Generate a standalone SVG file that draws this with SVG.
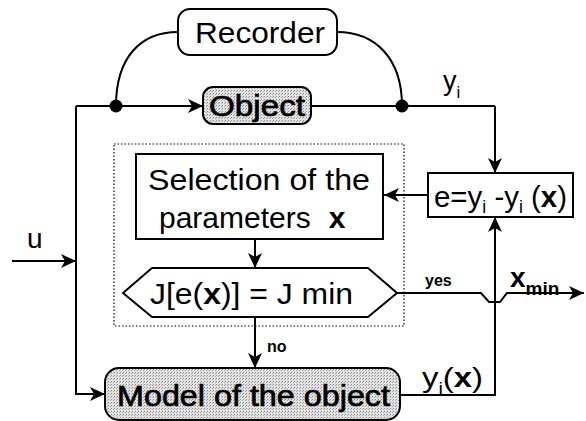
<svg xmlns="http://www.w3.org/2000/svg" width="586" height="421" viewBox="0 0 586 421">
<style>
text{font-family:"Liberation Sans",Arial,sans-serif;fill:#000}
.box{fill:#fff;stroke:#000;stroke-width:2}
.shade{fill:url(#stip);stroke:#000;stroke-width:2}
.ln{fill:none;stroke:#000;stroke-width:2}
.arr{marker-end:url(#ah)}
.t{font-size:30px}
.heavy{stroke:#000;stroke-width:0.7}
</style>
<defs>
<pattern id="stip" width="3" height="3" patternUnits="userSpaceOnUse">
<rect width="3" height="3" fill="#e2e2e2"/>
<rect x="0" y="0" width="1" height="1" fill="#8a8a8a"/>
<rect x="2" y="1" width="1" height="1" fill="#a8a8a8"/>
</pattern>
<marker id="ah" markerWidth="16" markerHeight="14" refX="15" refY="7" orient="auto" markerUnits="userSpaceOnUse">
<path d="M0,0 L15,7 L0,14 L4,7 Z" fill="#000"/>
</marker>
</defs>

<g id="connectors">
<path class="ln arr" d="M76,106 L203,106"/>
<path class="ln" d="M311,106 L495,106"/>
<path class="ln arr" d="M495,106 L495,173"/>
<path class="ln" d="M116,106 C116,58 140,32 178,32"/>
<path class="ln" d="M337,32 C375,32 402,58 402,106"/>
<path class="ln arr" d="M428,195 L384,195"/>
<path class="ln arr" d="M255,239 L255,268"/>
<path class="ln arr" d="M255,317 L255,368"/>
<path class="ln arr" d="M12,261 L76,261"/>
<path class="ln arr" d="M76,106 L76,394 L105,394"/>
<path class="ln arr" d="M400,395 L495,395 L495,217"/>
<path class="ln arr" d="M397,293 L481,293 L489,302 L500,302 L507,293 L584,293"/>
<circle cx="116" cy="106" r="6.5" fill="#000"/>
<circle cx="402" cy="106" r="6.5" fill="#000"/>
</g>

<rect id="frame" x="114" y="144" width="290" height="182" fill="none" stroke="#000" stroke-width="1.2" stroke-dasharray="1.5,2"/>

<g id="recorder">
<rect class="box" x="178" y="9" width="159" height="46" rx="12"/>
<text x="195" y="43" font-size="29" textLength="130" lengthAdjust="spacingAndGlyphs">Recorder</text>
</g>

<g id="object">
<rect class="shade" x="203" y="87" width="108" height="37" rx="10"/>
<text class="heavy" x="209" y="116" font-size="29" textLength="96" lengthAdjust="spacingAndGlyphs">Object</text>
</g>

<g id="selection">
<rect class="box" x="136" y="154" width="247" height="85"/>
<text class="t" x="148" y="190" textLength="222" lengthAdjust="spacingAndGlyphs">Selection of the</text>
<text class="t" x="159" y="228">parameters<tspan font-weight="bold" dx="18">x</tspan></text>
</g>

<g id="error">
<rect class="box" x="428" y="173" width="145" height="44"/>
<text class="t" x="434" y="207" textLength="133" lengthAdjust="spacingAndGlyphs">e=y<tspan font-size="18" dy="6">i</tspan><tspan dy="-6"> -y</tspan><tspan font-size="18" dy="6">i</tspan><tspan dy="-6"> (</tspan><tspan font-weight="bold">x</tspan>)</text>
</g>

<g id="criterion">
<polygon class="box" points="123,293 152,268 368,268 397,293 368,317 152,317"/>
<text font-size="30" x="150" y="304" textLength="203" lengthAdjust="spacingAndGlyphs">J[e(<tspan font-weight="bold">x</tspan>)] = J min</text>
</g>

<g id="model">
<rect class="shade" x="105" y="368" width="295" height="52" rx="14"/>
<text class="heavy" x="117" y="406" font-size="30" textLength="273" lengthAdjust="spacingAndGlyphs">Model of the object</text>
</g>

<g id="labels">
<text x="443" y="90" font-size="27">y<tspan font-size="17" dy="8">i</tspan></text>
<text x="27" y="248" font-size="28">u</text>
<text x="425" y="286" font-size="16" font-weight="bold">yes</text>
<text x="510" y="287" font-size="28" font-weight="bold">x<tspan font-size="19" dy="8">min</tspan></text>
<text x="267" y="352" font-size="16" font-weight="bold">no</text>
<text x="422" y="387" font-size="28" textLength="61" lengthAdjust="spacingAndGlyphs">y<tspan font-size="17" dy="7">i</tspan><tspan dy="-7">(</tspan><tspan font-weight="bold">x</tspan>)</text>
</g>
</svg>
